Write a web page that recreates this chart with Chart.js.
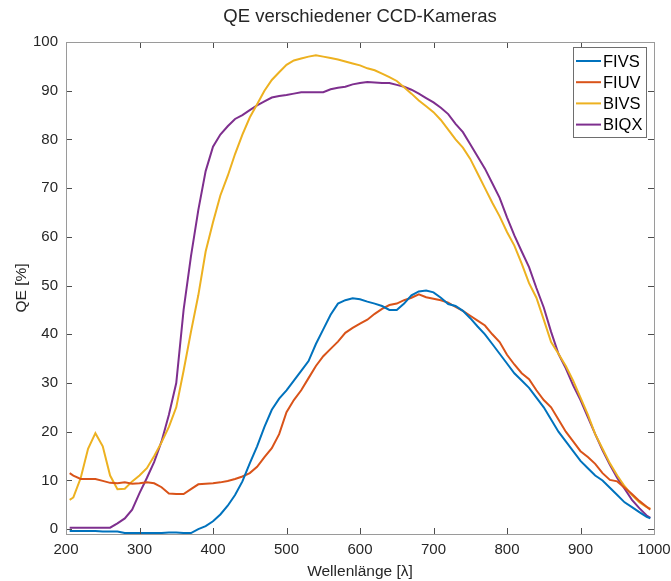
<!DOCTYPE html>
<html>
<head>
<meta charset="utf-8">
<title>QE verschiedener CCD-Kameras</title>
<script src="https://cdn.jsdelivr.net/npm/chart.js@4/dist/chart.umd.min.js"></script>
<style>
    html, body { margin: 0; padding: 0; background: #fff; }
    #wrap { width: 671px; height: 581px; position: relative; }
</style>
</head>
<body>
<div id="wrap"><canvas id="myChart"></canvas></div>
<script>
// Wellenlaengen in nm
var wavelengths = [205, 210, 220, 230, 240, 250, 260, 270, 280, 290,
    300, 310, 320, 330, 340, 350, 360, 370, 380, 390,
    400, 410, 420, 430, 440, 450, 460, 470, 480, 490,
    500, 510, 520, 530, 540, 550, 560, 570, 580, 590,
    600, 610, 620, 630, 640, 650, 660, 670, 680, 690,
    700, 710, 720, 730, 740, 750, 760, 770, 780, 790,
    800, 810, 820, 830, 840, 850, 860, 870, 880, 890,
    900, 910, 920, 930, 940, 950, 960, 970, 980, 990, 995];

// QE in %
var fivs = [-0.4, -0.4, -0.4, -0.4, -0.4, -0.5, -0.5, -0.5, -0.8, -0.8,
    -0.8, -0.8, -0.8, -0.8, -0.7, -0.7, -0.8, -0.8, 0.0, 0.6,
    1.6, 3.0, 4.8, 7.0, 9.8, 13.5, 17.0, 21.0, 24.5, 26.8,
    28.5, 30.5, 32.5, 34.5, 38.0, 41.0, 44.0, 46.3, 47.0, 47.4,
    47.2, 46.7, 46.3, 45.8, 45.0, 45.0, 46.3, 48.0, 48.8, 49.0,
    48.6, 47.5, 46.2, 45.8, 44.8, 43.3, 41.6, 40.0, 38.0, 36.0,
    34.0, 32.0, 30.5, 29.0, 27.0, 25.0, 22.5, 20.0, 18.0, 16.0,
    14.0, 12.5, 11.0, 10.0, 8.5, 7.0, 5.5, 4.5, 3.5, 2.5, 2.2];

var fiuv = [11.5, 11.0, 10.3, 10.3, 10.3, 9.9, 9.5, 9.4, 9.6, 9.3,
    9.4, 9.6, 9.4, 8.6, 7.3, 7.2, 7.2, 8.2, 9.2, 9.3,
    9.4, 9.6, 9.9, 10.3, 10.8, 11.5, 12.8, 14.8, 16.6, 19.5,
    24.0, 26.5, 28.5, 31.0, 33.5, 35.5, 37.0, 38.5, 40.3, 41.3,
    42.2, 43.0, 44.2, 45.2, 46.0, 46.3, 47.0, 47.5, 48.2, 47.6,
    47.3, 47.0, 46.5, 45.6, 44.8, 43.8, 42.8, 41.8, 40.0, 38.4,
    35.8, 33.8, 32.0, 30.8, 28.5, 26.5, 25.0, 22.5, 20.0, 18.0,
    16.0, 14.8, 13.4, 11.5, 10.1, 9.8, 8.5, 7.2, 5.8, 4.6, 4.0];

var bivs = [6.0, 6.5, 10.5, 16.5, 19.7, 17.0, 11.0, 8.2, 8.3, 9.8,
    11.0, 12.5, 15.0, 17.8, 21.0, 25.0, 32.5, 40.5, 48.0, 57.0,
    63.0, 68.5, 72.5, 77.0, 81.0, 84.5, 87.2, 90.0, 92.2, 93.8,
    95.3, 96.2, 96.6, 97.0, 97.3, 97.0, 96.7, 96.4, 96.0, 95.6,
    95.2, 94.6, 94.2, 93.5, 92.8, 92.0, 90.7, 89.4, 88.0, 86.8,
    85.6, 84.0, 82.0, 80.0, 78.3, 76.0, 73.0, 70.0, 67.0, 64.2,
    61.0, 58.2, 54.5, 50.5, 47.5, 43.0, 38.4, 36.0, 33.5, 30.5,
    27.0, 23.5, 19.5, 16.5, 13.5, 11.0, 8.8, 7.0, 5.5, 4.5, 4.2];

var biqx = [0.3, 0.3, 0.3, 0.3, 0.3, 0.3, 0.3, 1.2, 2.2, 4.0,
    7.4, 10.5, 13.8, 18.0, 23.5, 30.0, 45.0, 56.0, 65.5, 73.5,
    78.5, 81.0, 82.7, 84.2, 85.0, 86.0, 87.0, 87.8, 88.6, 88.9,
    89.1, 89.4, 89.7, 89.7, 89.7, 89.7, 90.3, 90.6, 90.8, 91.3,
    91.6, 91.8, 91.7, 91.6, 91.6, 91.2, 90.8, 90.2, 89.4, 88.5,
    87.6, 86.5, 85.2, 83.2, 81.5, 79.0, 76.5, 74.0, 71.0, 68.0,
    64.0, 60.3, 57.0, 53.8, 49.5, 45.5, 40.5, 36.0, 33.0, 29.5,
    26.5, 23.0, 19.5, 16.2, 13.2, 10.5, 8.3, 6.0, 4.3, 2.8, 2.3];

var seriesNames = ['FIVS', 'FIUV', 'BIVS', 'BIQX'];
var seriesColors = ['#0072BD', '#D95319', '#EDB120', '#7E2F8E'];
var seriesValues = [fivs, fiuv, bivs, biqx];

var fontFamily = '"Liberation Sans", Arial, Helvetica, sans-serif';
var textColor = '#262626';

function toPoints(values) {
    return wavelengths.map(function (w, i) {
        return { x: w, y: values[i] };
    });
}

// Rahmen mit nach innen zeigenden Ticks auf allen vier Seiten
var boxPlugin = {
    id: 'boxPlugin',
    afterDatasetsDraw: function (chart) {
        var ctx = chart.ctx;
        var a = chart.chartArea;
        var xs = chart.scales.x;
        var ys = chart.scales.y;
        var len = 6;
        ctx.save();
        ctx.strokeStyle = '#4d4d4d';
        ctx.lineWidth = 1;
        ctx.beginPath();
        xs.ticks.forEach(function (t) {
            var px = Math.round(xs.getPixelForValue(t.value)) + 0.5;
            ctx.moveTo(px, a.bottom);
            ctx.lineTo(px, a.bottom - len);
            ctx.moveTo(px, a.top);
            ctx.lineTo(px, a.top + len);
        });
        ys.ticks.forEach(function (t) {
            var py = Math.round(ys.getPixelForValue(t.value)) + 0.5;
            ctx.moveTo(a.left, py);
            ctx.lineTo(a.left + len, py);
            ctx.moveTo(a.right, py);
            ctx.lineTo(a.right - len, py);
        });
        ctx.stroke();
        ctx.strokeStyle = '#9a9a9a';
        ctx.strokeRect(Math.round(a.left) + 0.5, Math.round(a.top) + 0.5,
            Math.round(a.right - a.left), Math.round(a.bottom - a.top));
        ctx.restore();
    }
};

// Legende oben rechts innerhalb der Achsen
var legendPlugin = {
    id: 'boxLegend',
    afterDraw: function (chart) {
        var ctx = chart.ctx;
        var a = chart.chartArea;
        var w = 73, h = 90;
        var x0 = a.right - 8 - w;
        var y0 = a.top + 5;
        ctx.save();
        ctx.fillStyle = '#ffffff';
        ctx.fillRect(x0, y0, w, h);
        ctx.strokeStyle = '#6e6e6e';
        ctx.lineWidth = 1;
        ctx.strokeRect(x0 + 0.5, y0 + 0.5, w, h);
        ctx.font = '16.5px ' + fontFamily;
        ctx.textBaseline = 'middle';
        ctx.textAlign = 'left';
        chart.data.datasets.forEach(function (ds, i) {
            var yy = y0 + 14 + i * 21.2;
            ctx.strokeStyle = ds.borderColor;
            ctx.lineWidth = 2;
            ctx.beginPath();
            ctx.moveTo(x0 + 3, yy);
            ctx.lineTo(x0 + 28, yy);
            ctx.stroke();
            ctx.fillStyle = '#000000';
            ctx.fillText(ds.label, x0 + 30, yy + 1);
        });
        ctx.restore();
    }
};

var datasets = seriesNames.map(function (name, i) {
    return {
        label: name,
        data: toPoints(seriesValues[i]),
        borderColor: seriesColors[i],
        backgroundColor: seriesColors[i],
        borderWidth: 2,
        pointRadius: 0,
        tension: 0,
        fill: false
    };
});

var ctx = document.querySelector('#myChart').getContext('2d');
var myChart = new Chart(ctx, {
    type: 'line',
    data: { datasets: datasets },
    plugins: [boxPlugin, legendPlugin],
    options: {
        responsive: true,
        maintainAspectRatio: false,
        animation: false,
        layout: { padding: { left: 0, right: 17, top: 0, bottom: 0 } },
        plugins: {
            legend: { display: false },
            tooltip: { enabled: false },
            title: {
                display: true,
                fullSize: false,
                text: 'QE verschiedener CCD-Kameras',
                color: textColor,
                font: { family: fontFamily, size: 18.5, weight: 'normal' },
                padding: { top: 6, bottom: 13.8 }
            }
        },
        scales: {
            x: {
                type: 'linear',
                min: 200,
                max: 1000,
                afterFit: function (scale) {
                    scale.height = 47;
                    scale.paddingLeft = 0;
                    scale.paddingRight = 0;
                },
                border: { display: false },
                grid: { display: false, drawTicks: false },
                ticks: {
                    stepSize: 100,
                    autoSkip: false,
                    maxRotation: 0,
                    padding: 7,
                    color: textColor,
                    font: { family: fontFamily, size: 15 },
                    callback: function (value) { return String(value); }
                },
                title: {
                    display: true,
                    text: 'Wellenlänge [λ]',
                    color: textColor,
                    font: { family: fontFamily, size: 15.5 },
                    padding: { top: 0, bottom: 0 }
                }
            },
            y: {
                type: 'linear',
                min: -1,
                max: 100,
                afterFit: function (scale) {
                    scale.width = 66;
                    scale.paddingTop = 0;
                    scale.paddingBottom = 0;
                },
                border: { display: false },
                grid: { display: false, drawTicks: false },
                ticks: {
                    stepSize: 10,
                    includeBounds: false,
                    padding: 8,
                    color: textColor,
                    font: { family: fontFamily, size: 15 }
                },
                title: {
                    display: true,
                    text: 'QE [%]',
                    color: textColor,
                    font: { family: fontFamily, size: 15.5 },
                    padding: { top: 12.5, bottom: 0 }
                }
            }
        }
    }
});
</script>
</body>
</html>
